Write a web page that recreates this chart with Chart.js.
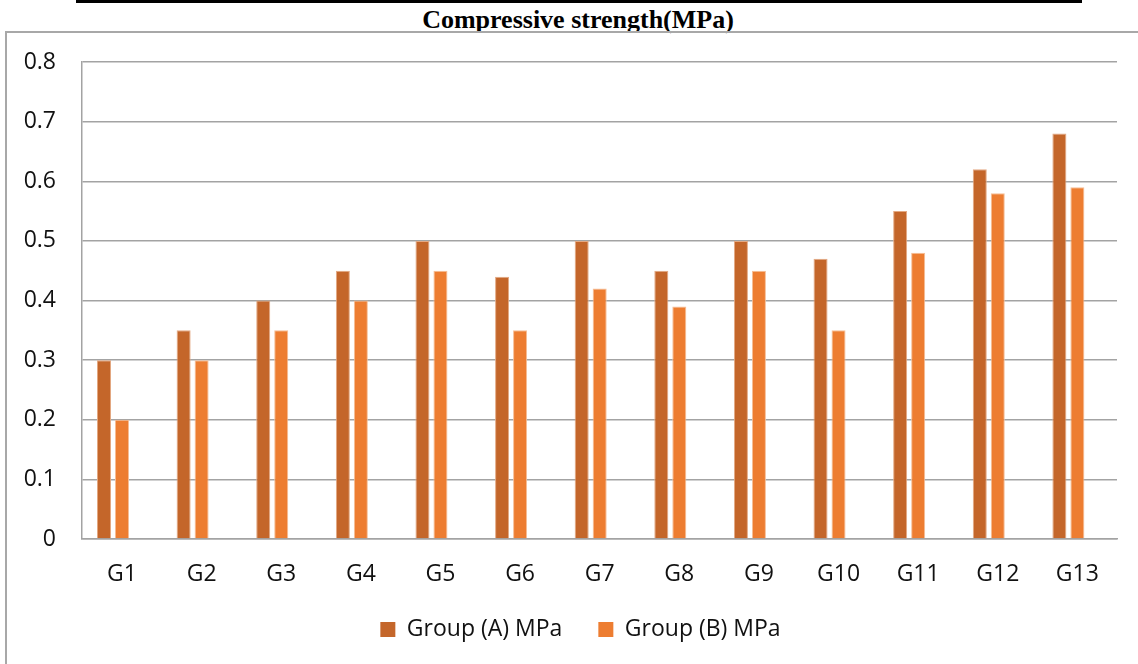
<!DOCTYPE html>
<html>
<head>
<meta charset="utf-8">
<script src="https://cdn.jsdelivr.net/npm/chart.js@4.4.1/dist/chart.umd.min.js"></script>
<style>
  html, body { margin: 0; padding: 0; background: #fff; }
  body { width: 1138px; height: 664px; position: relative; overflow: hidden; }
  #rule { position: absolute; left: 76px; top: 0; width: 1006px; height: 3px; background: #000; }
  #title { position: absolute; left: 0; top: 5px; width: 1156px; text-align: center;
           font-family: "Liberation Serif", "Times New Roman", serif; font-weight: bold;
           font-size: 26px; line-height: 30px; color: #000; }
  #frame { position: absolute; left: 5px; top: 31px; width: 1200px; height: 700px;
           border-left: 2px solid #A8A8A8; border-top: 2px solid #A8A8A8; }
  #chart { position: absolute; left: 0; top: 0; }
</style>
</head>
<body>
<div id="rule"></div>
<div id="title">Compressive strength(MPa)</div>
<div id="frame"></div>
<canvas id="chart" width="1138" height="664"></canvas>
<script>
// Categories and series values
const categories = ['G1', 'G2', 'G3', 'G4', 'G5', 'G6', 'G7', 'G8', 'G9', 'G10', 'G11', 'G12', 'G13'];
const groupA = [0.30, 0.35, 0.40, 0.45, 0.50, 0.44, 0.50, 0.45, 0.50, 0.47, 0.55, 0.62, 0.68];
const groupB = [0.20, 0.30, 0.35, 0.40, 0.45, 0.35, 0.42, 0.39, 0.45, 0.35, 0.48, 0.58, 0.59];
const seriesNames = ['Group (A) MPa', 'Group (B) MPa'];
const yTicks = [0, 0.1, 0.2, 0.3, 0.4, 0.5, 0.6, 0.7, 0.8];

const FONT = '"Open Sans", "Noto Sans", sans-serif';
const FONT_SIZE = 23;

// one category per unit on a linear x scale; bar groups sit left of the label
const unit = 1035 / categories.length;
const xMin = 1 - 31 / unit;

const toPoints = vals => vals.map((v, i) => ({ x: i + 1, y: v }));

// nudges the legend row to the right of the plot's centre line
const legendShift = {
  id: 'legendShift',
  afterLayout(chart) {
    const lg = chart.legend;
    if (lg) { lg.left += 19; lg.right += 19; }
  }
};

new Chart(document.getElementById('chart'), {
  type: 'bar',
  data: {
    datasets: [
      {
        label: seriesNames[0],
        data: toPoints(groupA),
        backgroundColor: '#C4662A',
        borderColor: '#E4A983',
        borderWidth: 1,
        borderSkipped: 'bottom',
        categoryPercentage: 0.452,
        barPercentage: 0.78
      },
      {
        label: seriesNames[1],
        data: toPoints(groupB),
        backgroundColor: '#ED7D31',
        borderColor: '#F6BE96',
        borderWidth: 1,
        borderSkipped: 'bottom',
        categoryPercentage: 0.452,
        barPercentage: 0.78
      }
    ]
  },
  plugins: [legendShift],
  options: {
    responsive: false,
    animation: false,
    events: [],
    layout: { padding: { left: 6, right: 21, top: 62, bottom: 13 } },
    scales: {
      x: {
        type: 'linear',
        offset: false,
        min: xMin,
        max: xMin + categories.length,
        afterBuildTicks: s => { s.ticks = categories.map((c, i) => ({ value: i + 1 })); },
        grid: { display: false, drawTicks: false },
        border: { display: true, color: '#A3A3A3', width: 1.5 },
        ticks: {
          autoSkip: false,
          maxRotation: 0,
          labelOffset: 9,
          padding: 22,
          color: '#111',
          font: { family: FONT, size: FONT_SIZE },
          callback: v => categories[Math.round(v) - 1] || ''
        },
        afterFit: s => { s.height = 43; }
      },
      y: {
        min: 0,
        max: 0.8,
        afterBuildTicks: s => { s.ticks = yTicks.map(v => ({ value: v })); },
        grid: { color: '#A3A3A3', lineWidth: 1.5, drawTicks: false },
        border: { display: true, color: '#A3A3A3', width: 1.5 },
        ticks: {
          padding: 26,
          color: '#111',
          font: { family: FONT, size: FONT_SIZE },
          callback: v => String(Math.round(v * 10) / 10)
        },
        afterFit: s => { s.width = 76; }
      }
    },
    plugins: {
      title: { display: false },
      tooltip: { enabled: false },
      legend: {
        position: 'bottom',
        labels: {
          color: '#111',
          font: { family: FONT, size: FONT_SIZE },
          boxWidth: 15,
          boxHeight: 15,
          padding: 36,
          generateLabels: chart => Chart.defaults.plugins.legend.labels.generateLabels(chart)
            .map(l => Object.assign(l, { lineWidth: 0, strokeStyle: 'transparent' }))
        }
      }
    }
  }
});
</script>
</body>
</html>
